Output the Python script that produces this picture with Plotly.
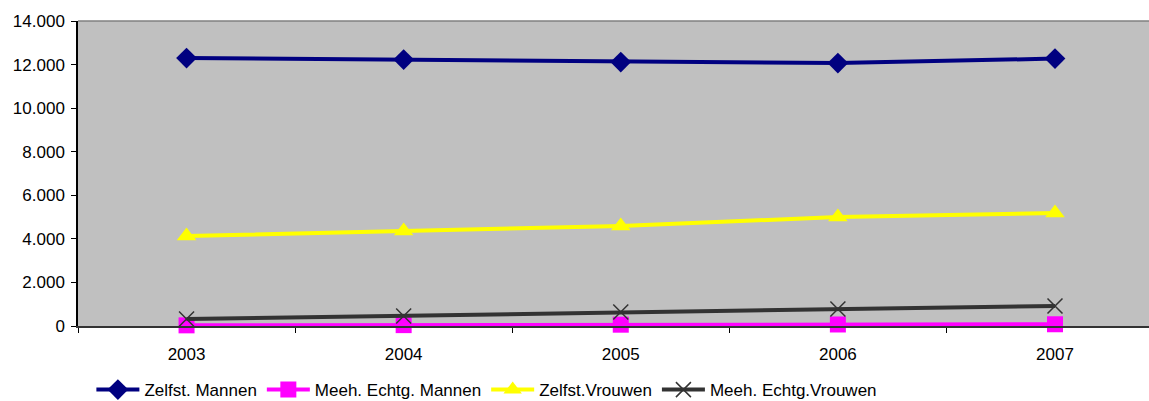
import plotly.graph_objects as go

years = ["2003", "2004", "2005", "2006", "2007"]
zelfst_mannen = [12300, 12230, 12115, 12070, 12275]
meeh_mannen = [30, 40, 60, 70, 80]
zelfst_vrouwen = [4130, 4360, 4590, 5000, 5190]
meeh_vrouwen = [320, 460, 640, 780, 920]

y_tickvals = [0, 2000, 4000, 6000, 8000, 10000, 12000, 14000]
y_ticktext = ["0", "2.000", "4.000", "6.000", "8.000", "10.000", "12.000", "14.000"]

series = [
    ("Zelfst. Mannen", zelfst_mannen, "#000080", dict(symbol="diamond", size=16, color="#000080")),
    ("Meeh. Echtg. Mannen", meeh_mannen, "#FF00FF", dict(symbol="square", size=16, color="#FF00FF")),
    ("Zelfst.Vrouwen", zelfst_vrouwen, "#FFFF00", dict(symbol="triangle-up", size=17, color="#FFFF00")),
    ("Meeh. Echtg.Vrouwen", meeh_vrouwen, "#333333",
     dict(symbol="x-thin-open", size=15, color="#333333", line=dict(width=1.5, color="#333333"))),
]

fig = go.Figure()
for name, vals, col, mk in series:
    fig.add_trace(go.Scatter(
        x=years, y=vals, name=name, mode="lines+markers",
        line=dict(color=col, width=4), marker=mk, cliponaxis=False,
    ))

fig.update_layout(
    width=1149, height=401,
    margin=dict(l=78, r=0, t=21, b=75, autoexpand=False),
    paper_bgcolor="white", plot_bgcolor="#C0C0C0",
    font=dict(family="Liberation Sans, Arial", size=17, color="black"),
    showlegend=True,
    legend=dict(orientation="h", x=0.0125, xanchor="left", y=-0.21, yanchor="middle",
                font=dict(size=17), itemwidth=43, tracegroupgap=0,
                bgcolor="rgba(0,0,0,0)"),
    shapes=[dict(type="line", xref="paper", yref="paper", x0=0, x1=1, y0=1, y1=1,
                 line=dict(color="#808080", width=1.5))],
)
fig.update_xaxes(
    type="category", range=[-0.5, 4.433], tickson="boundaries",
    ticks="outside", ticklen=5, tickcolor="black", showgrid=False, zeroline=False,
    showline=True, linecolor="#333333", linewidth=1.5,
    tickfont=dict(size=17), automargin=False, ticklabelstandoff=12,
)
fig.update_yaxes(
    range=[0, 14000], tickvals=y_tickvals, ticktext=y_ticktext,
    ticks="outside", ticklen=5, tickcolor="black", showgrid=False, zeroline=False,
    showline=True, linecolor="black", linewidth=1.5,
    tickfont=dict(size=17), automargin=False, ticklabelstandoff=3,
)

fig.write_html("out.html", config={"displayModeBar": False},
               post_script="document.body.style.margin='0';document.body.style.overflow='hidden';")
